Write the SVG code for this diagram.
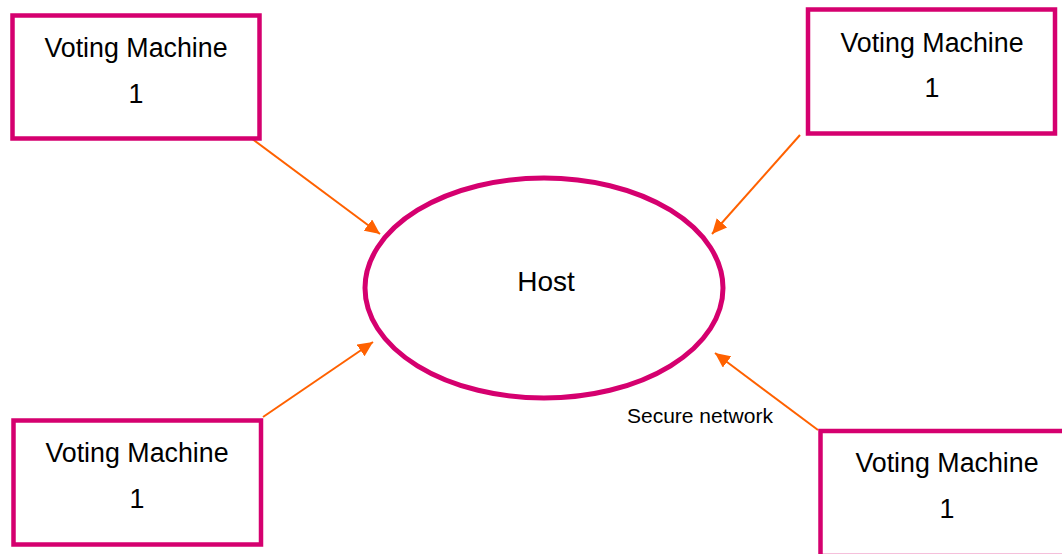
<svg xmlns="http://www.w3.org/2000/svg" width="1062" height="554" viewBox="0 0 1062 554">
  <style>
    .box { fill: #ffffff; stroke: #D5006F; stroke-width: 4.5; }
    .host { fill: #ffffff; stroke: #D5006F; stroke-width: 5; }
    .label { font-family: "Liberation Sans", Arial, sans-serif; font-size: 26.8px; fill: #000000; text-anchor: middle; }
    .title { font-family: "Liberation Sans", Arial, sans-serif; font-size: 28px; fill: #000000; text-anchor: middle; }
    .note { font-family: "Liberation Sans", Arial, sans-serif; font-size: 21px; fill: #000000; }
    .link { stroke: #FF6100; stroke-width: 2; fill: none; marker-end: url(#arrow); }
  </style>
  <defs>
    <marker id="arrow" markerUnits="userSpaceOnUse" markerWidth="16" markerHeight="14" refX="15" refY="7" orient="auto">
      <path d="M0,0 L15,7 L0,14 Z" fill="#FF6100"/>
    </marker>
  </defs>
  <rect width="1062" height="554" fill="#ffffff"/>

  <g id="connectors">
    <line class="link" x1="247" y1="135" x2="380" y2="234"/>
    <line class="link" x1="800" y1="135" x2="712" y2="234"/>
    <line class="link" x1="263" y1="417" x2="373" y2="342"/>
    <line class="link" x1="818" y1="430" x2="715" y2="353"/>
  </g>

  <g id="host">
    <ellipse class="host" cx="544" cy="288" rx="179" ry="110"/>
    <text class="title" x="546" y="291">Host</text>
  </g>

  <g id="vm-top-left">
    <rect class="box" x="12.5" y="15.5" width="247" height="123"/>
    <text class="label" x="136" y="57">Voting Machine</text>
    <text class="label" x="136" y="103">1</text>
  </g>

  <g id="vm-top-right">
    <rect class="box" x="808" y="9.5" width="247" height="124"/>
    <text class="label" x="932" y="52">Voting Machine</text>
    <text class="label" x="932" y="97">1</text>
  </g>

  <g id="vm-bottom-left">
    <rect class="box" x="13.5" y="420.5" width="247.5" height="124"/>
    <text class="label" x="137" y="462">Voting Machine</text>
    <text class="label" x="137" y="508">1</text>
  </g>

  <g id="vm-bottom-right">
    <rect class="box" x="820.5" y="431" width="250" height="125"/>
    <text class="label" x="947" y="472">Voting Machine</text>
    <text class="label" x="947" y="518">1</text>
  </g>

  <g id="network-label">
    <text class="note" x="627" y="423">Secure network</text>
  </g>
</svg>
